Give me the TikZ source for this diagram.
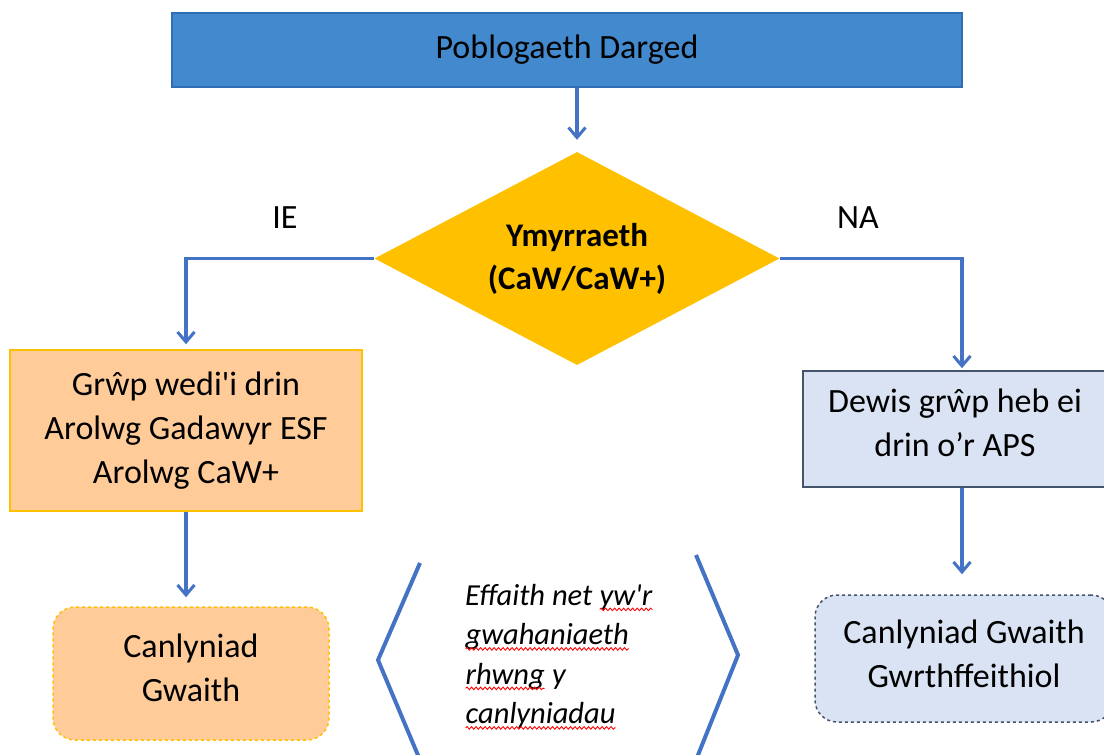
\documentclass[tikz,border=0pt]{standalone}
\usepackage{fontspec}
\setmainfont{Carlito}
\usetikzlibrary{shapes.geometric,arrows.meta,decorations.pathmorphing}
\definecolor{topblue}{HTML}{4389CE}
\definecolor{topedge}{HTML}{2F6EB5}
\definecolor{gold}{HTML}{FFC000}
\definecolor{peach}{HTML}{FFCC99}
\definecolor{lightblue}{HTML}{DAE3F3}
\definecolor{slate}{HTML}{44546A}
\definecolor{linkblue}{HTML}{4472C4}
\newcommand\squig[1]{\tikz[baseline=(sq.base)]{\node[inner sep=0pt,outer sep=0pt,font={}] (sq) {#1};
  \draw[red, line width=0.9pt, decorate, decoration={snake, amplitude=1.3pt, segment length=4.5pt}] ([yshift=-4pt]sq.base west) -- ([yshift=-4pt]sq.base east);}}
\begin{document}
\begin{tikzpicture}[x=1pt,y=-1pt,
  every node/.style={font=\fontsize{34}{44}\selectfont},
  link/.style={draw=linkblue, line width=3.5pt, -{Straight Barb[length=10pt,width=17pt,line width=3pt]}},
  bracket/.style={draw=linkblue, line width=4pt},
  lbl/.style={inner sep=0pt}]
\useasboundingbox (0,0) rectangle (1104,755);
\begin{scope}
\clip (0,0) rectangle (1104,755);
\node[draw=topedge, line width=2pt, fill=topblue, minimum width=790pt, minimum height=74pt, inner sep=0pt] (top) at (567,50) {Poblogaeth Darged};
\node[diamond, fill=gold, minimum width=405pt, minimum height=213pt, inner sep=0pt, aspect=1.9, align=center, font=\bfseries\fontsize{33}{43}\selectfont] (dec) at (577,258.5) {Ymyrraeth\\(CaW/CaW+)};
\node[draw=gold, line width=1.5pt, fill=peach, minimum width=352pt, minimum height=161pt, inner sep=0pt, align=center] (lbox) at (186,430.5) {Grŵp wedi\textquotesingle i drin\\Arolwg Gadawyr ESF\\Arolwg CaW+};
\node[draw=slate, line width=1.5pt, fill=lightblue, minimum width=318pt, minimum height=116pt, inner sep=0pt] (rbox) at (962,429) {};
\node[align=center] (rtext) at (955,423) {Dewis grŵp heb ei\\drin o’r APS};
\node[draw=gold, dashed, line width=1.5pt, fill=peach, rounded corners=22pt, minimum width=276pt, minimum height=133pt, inner sep=0pt, align=center] (lres) at (191,673.5) {};
\node[align=center] (lrestext) at (191,668) {Canlyniad\\Gwaith};
\node[draw=slate, dashed, line width=1.5pt, fill=lightblue, rounded corners=22pt, minimum width=298pt, minimum height=127pt, inner sep=0pt] (rres) at (964,658.5) {};
\node[align=center] (rrestext) at (964,654) {Canlyniad Gwaith\\Gwrthffeithiol};
\node[lbl] (ie) at (285,218) {IE};
\node[lbl] (na) at (858,218) {NA};
\node[align=left, anchor=north west, inner sep=0pt, font=\itshape\fontsize{30.5}{39.5}\selectfont] (mid) at (465,584) {Effaith net \squig{yw\textquotesingle r}\\\squig{gwahaniaeth}\\\squig{rhwng} y\\\squig{canlyniadau}};
\coordinate (bl1) at (420,563);
\coordinate (bl2) at (378,660);
\coordinate (bl3) at (420,760);
\coordinate (br1) at (696,555);
\coordinate (br2) at (738,655);
\coordinate (br3) at (696,760);
\draw[bracket] (bl1) -- (bl2) -- (bl3);
\draw[bracket] (br1) -- (br2) -- (br3);
\draw[link, shorten >=12pt] (dec.north |- top.south) -- (dec.north);
\draw[link, shorten >=5pt] (dec.west) -| (lbox.north);
\draw[link, shorten >=2pt] (dec.east) -| (rbox.north);
\draw[link, shorten >=9pt] (lbox.south) -- (lbox.south |- lres.north);
\draw[link, shorten >=20pt] (rbox.south) -- (rbox.south |- rres.north);
\end{scope}
\end{tikzpicture}
\end{document}
